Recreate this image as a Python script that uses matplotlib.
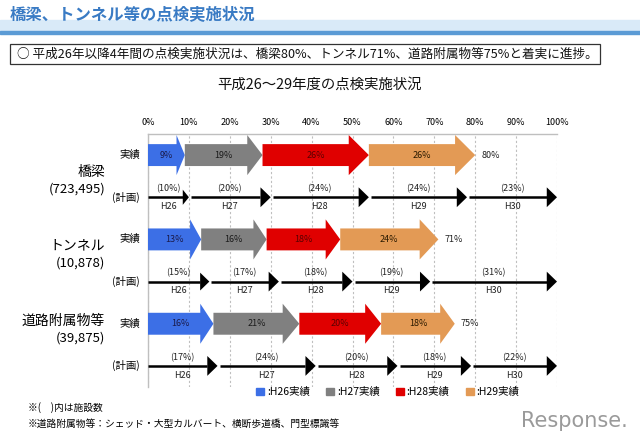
import numpy as np
import matplotlib
matplotlib.use("Agg")
import matplotlib.pyplot as plt
from matplotlib.patches import Rectangle, Patch

plt.rcParams['font.family'] = ['Noto Sans CJK JP', 'DejaVu Sans']

# -----------------------------
# DATA
# -----------------------------
categories = ['橋梁', 'トンネル', '道路附属物等']
facility_counts = ['(723,495)', '(10,878)', '(39,875)']
years = ['H26', 'H27', 'H28', 'H29', 'H30']
actual_years = ['H26実績', 'H27実績', 'H28実績', 'H29実績']
actual_bridge = [9, 19, 26, 26]
actual_tunnel = [13, 16, 18, 24]
actual_road = [16, 21, 20, 18]
plan_bridge = [10, 20, 24, 24, 23]
plan_tunnel = [15, 17, 18, 19, 31]
plan_road = [17, 24, 20, 18, 22]
actuals = [actual_bridge, actual_tunnel, actual_road]
plans = [plan_bridge, plan_tunnel, plan_road]
ticks = list(range(0, 101, 10))

colors = ['#3C6FE6', '#808080', '#E00000', '#E39A55']
label_colors = ['#1a1a4a', '#1a1a1a', '#5a0000', '#2a1a00']

# -----------------------------
# FIGURE
# -----------------------------
W, H = 640, 443
fig = plt.figure(figsize=(W / 100, H / 100), dpi=100)

def fx(px):
    return px / W

def fy(py):
    return 1 - py / H

# header band
fig.patches.append(Rectangle((0, fy(31)), 1, fy(20) - fy(31), transform=fig.transFigure,
                             color='#D9EAF8', zorder=0))
fig.patches.append(Rectangle((0, fy(34)), 1, fy(31) - fy(34), transform=fig.transFigure,
                             color='#5B9BD5', zorder=0))
fig.text(fx(10), fy(14), '橋梁、トンネル等の点検実施状況', fontsize=11.8, fontweight='bold',
         color='#3A7BC4', va='center', ha='left')

# summary box
fig.patches.append(Rectangle((fx(10), fy(64)), fx(600) - fx(10), fy(44) - fy(64),
                             transform=fig.transFigure, fill=False, edgecolor='#333333', lw=0.9))
fig.text(fx(17), fy(54), '○ 平成26年以降4年間の点検実施状況は、橋梁80%、トンネル71%、道路附属物等75%と着実に進捗。',
         fontsize=9.1, va='center', ha='left', color='#111111')

fig.text(fx(320), fy(85), '平成26～29年度の点検実施状況', fontsize=10.4, va='center', ha='center',
         color='#111111')

# chart axes
ax = fig.add_axes([fx(148), fy(387), fx(557) - fx(148), fy(134) - fy(387)])
ax.set_xlim(0, 100)
ax.set_ylim(5.5, -0.5)
ax.xaxis.tick_top()
ax.set_xticks(ticks)
ax.set_xticklabels([f'{t}%' for t in ticks], fontsize=6.5)
ax.tick_params(axis='x', length=0, pad=5)
ax.set_yticks([])
for s in ['right', 'bottom']:
    ax.spines[s].set_visible(False)
for s in ['top', 'left']:
    ax.spines[s].set_color('#BFBFBF')
    ax.spines[s].set_linewidth(1)
ax.grid(axis='x', linestyle=(0, (2, 2)), color='#BFBFBF', lw=0.8)
ax.set_axisbelow(True)

body_h = 0.26
head_h = 0.475
for i in range(3):
    ya = 2 * i
    yp = 2 * i + 1
    # actual arrows
    start = 0
    for k, v in enumerate(actuals[i]):
        end = start + v
        hl = 0.17 * v + 0.5
        xs = [start, end - hl, end - hl, end, end - hl, end - hl, start]
        ys = [ya - body_h, ya - body_h, ya - head_h, ya, ya + head_h, ya + body_h, ya + body_h]
        ax.fill(xs, ys, color=colors[k], lw=0, zorder=3)
        ax.text((start + end) / 2, ya, f'{v}%', fontsize=6.5, ha='center', va='center',
                color=label_colors[k], zorder=4)
        start = end
    ax.text(start + 1.5, ya, f'{start}%', fontsize=6.5, ha='left', va='center', color='#222222')

    # plan arrows
    start = 0
    for k, v in enumerate(plans[i]):
        end = min(start + v, 100)
        w = min(2.5, 0.15 * v)
        th = max(0.36, 0.47 * w / 2.5) / 2
        x0 = start + (0.5 if k else 0)
        ax.plot([x0, end - w], [yp, yp], color='black', lw=1.8, solid_capstyle='butt', zorder=3)
        ax.fill([end - w, end, end - w], [yp - th, yp, yp + th], color='black', lw=0, zorder=3)
        mid = (start + end) / 2
        ax.text(mid, yp - 0.2, f'({v}%)', fontsize=6.5, ha='center', va='center', color='#222222')
        ax.text(mid, yp + 0.22, years[k], fontsize=6.5, ha='center', va='center', color='#222222')
        start = end

    ax.text(-2, ya, '実績', fontsize=7.5, ha='right', va='center', clip_on=False)
    ax.text(-2, yp, '(計画)', fontsize=7.5, ha='right', va='center', clip_on=False)

cat_y = [(0.4, 0.8), (2.15, 2.55), (3.92, 4.33)]
for i in range(3):
    ax.text(-10.5, cat_y[i][0], categories[i], fontsize=10, ha='right', va='center', clip_on=False)
    ax.text(-10.5, cat_y[i][1], facility_counts[i], fontsize=9.5, ha='right', va='center', clip_on=False)

handles = [Patch(color=c) for c in colors]
fig.legend(handles, [':' + a for a in actual_years], loc='center', ncol=4,
           bbox_to_anchor=(fx(388), fy(392)), frameon=False, fontsize=7.5,
           handlelength=0.7, handleheight=0.7, handletextpad=0.3, columnspacing=1.6)

fig.text(fx(28), fy(408), '※(　)内は施設数', fontsize=7, ha='left', va='center')
fig.text(fx(28), fy(424), '※道路附属物等：シェッド・大型カルバート、横断歩道橋、門型標識等', fontsize=7,
         ha='left', va='center')
fig.text(fx(628), fy(421), 'Response.', fontsize=15, ha='right', va='center', color='#9A9A9A',
         family=['DejaVu Sans'])

fig.savefig('out.png', dpi=100)
